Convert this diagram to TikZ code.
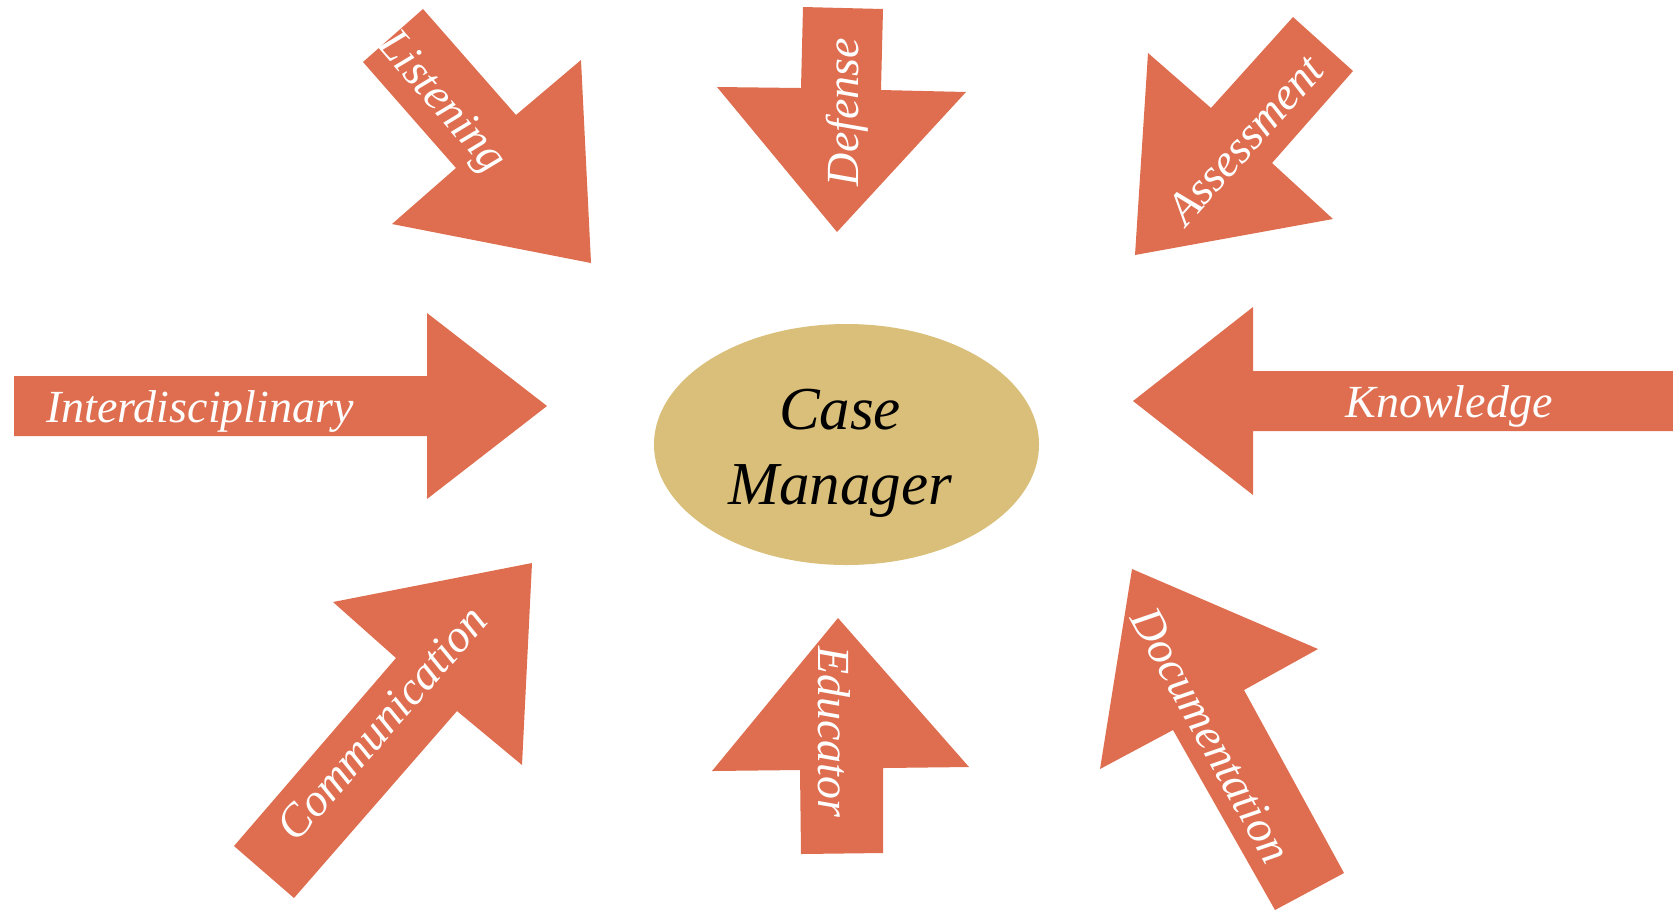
\documentclass[tikz,border=0pt]{standalone}
\usepackage{fontspec}
\setmainfont{Liberation Serif}
\usetikzlibrary{shapes.geometric}
\definecolor{arrowc}{RGB}{222,110,79}
\definecolor{ovalc}{RGB}{217,191,121}
\begin{document}
\begin{tikzpicture}[x=0.5pt,y=-0.5pt,
  arr/.style={fill=arrowc, draw=none},
  lbl/.style={text=white, font=\fontsize{23}{27}\selectfont\itshape, inner sep=0pt},
  oval/.style={ellipse, fill=ovalc, draw=none, minimum width=192.5pt, minimum height=120.5pt, inner sep=0pt},
  casetext/.style={align=center, inner sep=0pt, font=\fontsize{30.5}{37}\selectfont\itshape}]
\useasboundingbox (0,0) rectangle (1673,912);
% arrows
\fill[arr] (423,9) -- (516,115) -- (581,60) -- (591,263) -- (392,224) -- (456,168) -- (363,62) -- cycle;
\fill[arr] (803,7) -- (883,9) -- (881,90) -- (966,92) -- (837,232) -- (717,87) -- (801,88) -- cycle;
\fill[arr] (1293,17) -- (1353,71) -- (1272,163) -- (1333,219) -- (1135,255) -- (1148,53) -- (1211,108) -- cycle;
\fill[arr] (14,376) -- (427,376) -- (427,313) -- (547,406) -- (427,499) -- (427,436) -- (14,436) -- cycle;
\fill[arr] (1133,401) -- (1253,307) -- (1253,371) -- (1673,371) -- (1673,431) -- (1253,431) -- (1253,495) -- cycle;
\fill[arr] (234,846) -- (396,658) -- (333,602) -- (532,563) -- (522,765) -- (457,711) -- (294,898) -- cycle;
\fill[arr] (838,618) -- (969,767) -- (883,768) -- (883,853) -- (801,854) -- (800,770) -- (712,771) -- cycle;
\fill[arr] (1132,569) -- (1318,649) -- (1244,690) -- (1344,873) -- (1275,910) -- (1173,730) -- (1100,769) -- cycle;
% centre
\node[oval] (cm) at (846.5,444.5) {};
\node[casetext] (cmtext) at (840,453) {Case\\[0.5pt]Manager};
% labels
\node[lbl, rotate=-49] (listening) at (440,103) {Listening};
\node[lbl, rotate=90] (defense) at (847,112) {Defense};
\node[lbl, rotate=48] (assessment) at (1245,140) {Assessment};
\node[lbl, anchor=base] (interdisc) at (200,422) {Interdisciplinary};
\node[lbl, anchor=base] (knowledge) at (1449,417) {Knowledge};
\node[lbl, rotate=49] (communication) at (382,723) {Communication};
\node[lbl, rotate=-90] (educator) at (834,732) {Educator};
\node[lbl, rotate=-61] (documentation) at (1211,735) {Documentation};
\end{tikzpicture}
\end{document}
